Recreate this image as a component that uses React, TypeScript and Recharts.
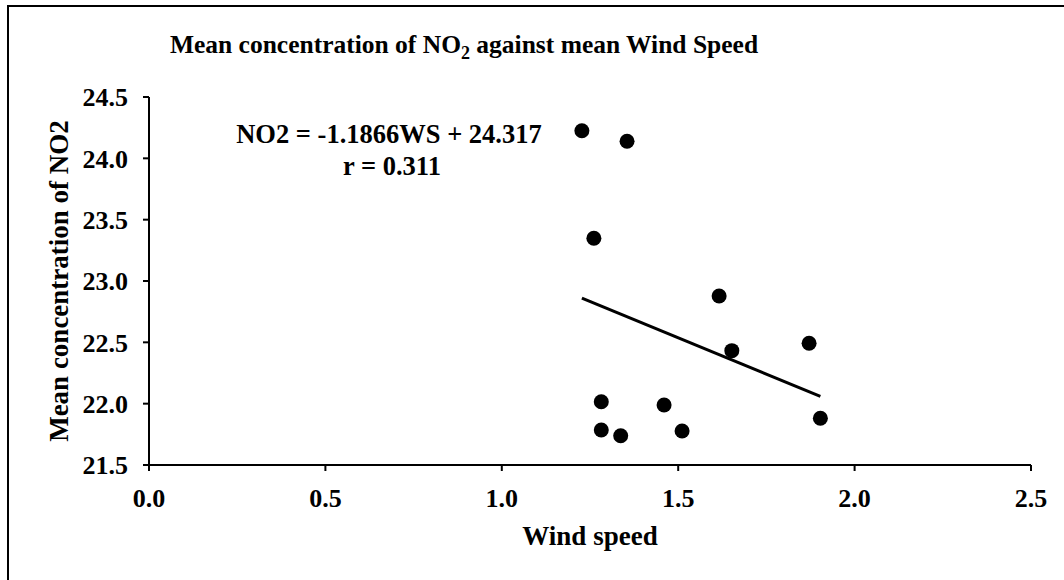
import { ScatterChart, Scatter, XAxis, YAxis } from 'recharts'

const windSpeed = [1.227, 1.355, 1.261, 1.282, 1.282, 1.337, 1.46, 1.511, 1.616, 1.652, 1.871, 1.903]
const no2 = [24.225, 24.139, 23.348, 22.016, 21.785, 21.739, 21.989, 21.777, 22.878, 22.432, 22.492, 21.881]

// fitted line endpoints (NO2 = -1.1866WS + 24.317)
const trendX = [1.227, 1.903]
const trendY = [22.861, 22.059]

const xTicks = [0, 0.5, 1.0, 1.5, 2.0, 2.5]
const yTicks = [21.5, 22.0, 22.5, 23.0, 23.5, 24.0, 24.5]

const points = windSpeed.map((x, i) => ({ x, y: no2[i] }))
const trend = trendX.map((x, i) => ({ x, y: trendY[i] }))

const FONT = 'Liberation Serif, DejaVu Serif, serif'
const tickStyle = { fill: '#000', fontSize: 26, fontWeight: 700, fontFamily: FONT }

const Dot = (props: any) => <circle cx={props.cx} cy={props.cy} r={7.5} fill="#000" />
const NoDot = () => <g />

export default function App() {
    return (
        <div style={{ position: 'absolute', left: 0, top: 0, width: 1064, height: 580, overflow: 'hidden', background: '#fff' }}>
            <div style={{ position: 'absolute', left: 7, top: 5, width: 1100, height: 620, border: '2px solid #000' }} />
            <ScatterChart
                width={1064}
                height={580}
                margin={{ top: 97, right: 33, bottom: 55, left: 89 }}
                style={{ position: 'absolute', left: 0, top: 0, fontFamily: FONT }}
            >
                <XAxis
                    type="number"
                    dataKey="x"
                    domain={[0, 2.5]}
                    ticks={xTicks}
                    tickFormatter={(v: number) => v.toFixed(1)}
                    height={60}
                    tick={tickStyle}
                    tickSize={6}
                    tickMargin={18}
                    axisLine={{ stroke: '#000', strokeWidth: 2 }}
                    tickLine={{ stroke: '#000', strokeWidth: 2 }}
                    allowDataOverflow
                />
                <YAxis
                    type="number"
                    dataKey="y"
                    domain={[21.5, 24.5]}
                    ticks={yTicks}
                    tickFormatter={(v: number) => v.toFixed(1)}
                    width={60}
                    tick={tickStyle}
                    tickSize={6}
                    tickMargin={15}
                    axisLine={{ stroke: '#000', strokeWidth: 2 }}
                    tickLine={{ stroke: '#000', strokeWidth: 2 }}
                    allowDataOverflow
                />
                <Scatter data={points} shape={Dot} isAnimationActive={false} />
                <Scatter
                    data={trend}
                    line={{ stroke: '#000', strokeWidth: 3 }}
                    shape={NoDot}
                    isAnimationActive={false}
                />
            </ScatterChart>
            <svg width={1064} height={580} style={{ position: 'absolute', left: 0, top: 0, pointerEvents: 'none', fontFamily: FONT }}>
                <g fontWeight={700} fill="#000">
                    <text x={464} y={53} fontSize={25.5} textAnchor="middle">
                        Mean concentration of NO<tspan fontSize={18} dy={6}>2</tspan>
                        <tspan dy={-6}> against mean Wind Speed</tspan>
                    </text>
                    <text x={389} y={143} fontSize={26.5} textAnchor="middle">NO2 = -1.1866WS + 24.317</text>
                    <text x={392} y={175} fontSize={26.5} textAnchor="middle">r = 0.311</text>
                    <text x={68} y={281} fontSize={27} textAnchor="middle" transform="rotate(-90 68 281)">
                        Mean concentration of  NO2
                    </text>
                    <text x={590} y={545} fontSize={27} textAnchor="middle">Wind speed</text>
                </g>
            </svg>
        </div>
    )
}
